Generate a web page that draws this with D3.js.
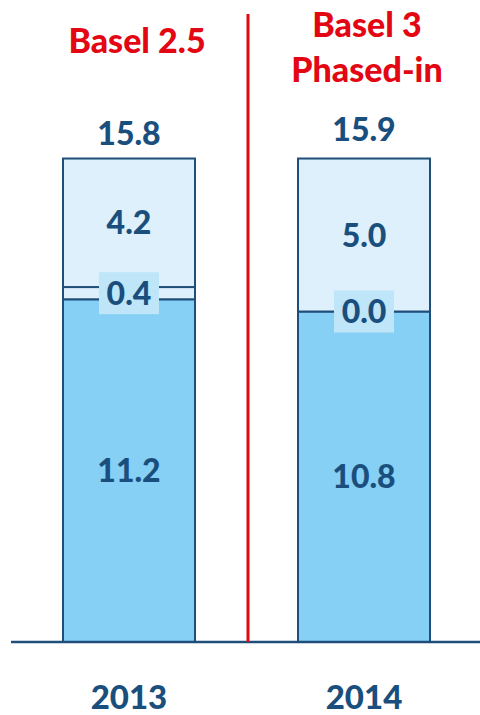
<!DOCTYPE html>
<html>
<head>
<meta charset="utf-8">
<script src="https://cdnjs.cloudflare.com/ajax/libs/d3/7.8.5/d3.min.js"></script>
<style>
  body { margin: 0; background: #fff; }
  text { font-family: Lato, "Open Sans", sans-serif; font-weight: 900; }
</style>
</head>
<body>
<svg id="chart"></svg>
<script>
// Data
var years = ["2013", "2014"];
var regimes = [["Basel 2.5"], ["Basel 3", "Phased-in"]];
var baseValues = [11.2, 10.8];
var midValues = [0.4, 0.0];
var topValues = [4.2, 5.0];
var totals = [15.8, 15.9];

var width = 480;
var height = 715;
var baseY = 642;
var darkBlue = "#1f4e79";
var textBlue = "#1a4f7d";

var svg = d3.select("#chart").attr("width", width).attr("height", height);

// bars ~132px wide, centres at ~129 and ~364
var x = d3.scaleBand().domain(years).range([4.25, 488.75]).paddingInner(0.4383).paddingOuter(0.25);
// y: value -> pixel, 0 at baseline
var y = d3.scaleLinear().domain([0, 15.85]).range([baseY, 157]);

// Build stacked segments
var segs = [];
years.forEach(function (yr, i) {
    var b = baseValues[i], m = midValues[i], t = topValues[i];
    segs.push({ year: yr, y0: 0, y1: b, v: b, fill: "#85d0f4", box: false });
    segs.push({ year: yr, y0: b, y1: b + m, v: m, fill: "#ddf0fc", box: true });
    segs.push({ year: yr, y0: b + m, y1: b + m + t, v: t, fill: "#ddf0fc", box: false });
});

svg.selectAll("rect.seg").data(segs).enter().append("rect")
    .attr("class", "seg")
    .attr("x", function (d) { return x(d.year); })
    .attr("width", x.bandwidth())
    .attr("y", function (d) { return y(d.y1); })
    .attr("height", function (d) { return y(d.y0) - y(d.y1); })
    .style("fill", function (d) { return d.fill; })
    .style("stroke", darkBlue)
    .style("stroke-width", 2);

// Boxed labels for the thin middle segment
var boxed = segs.filter(function (d) { return d.box; });
svg.selectAll("rect.lblbox").data(boxed).enter().append("rect")
    .attr("class", "lblbox")
    .attr("x", function (d) { return x(d.year) + x.bandwidth() / 2 - 30; })
    .attr("y", function (d) { return y((d.y0 + d.y1) / 2) - 21; })
    .attr("width", 60)
    .attr("height", 42)
    .style("fill", "#bfe5f9");

svg.selectAll("text.seglbl").data(segs).enter().append("text")
    .attr("class", "seglbl")
    .attr("x", function (d) { return x(d.year) + x.bandwidth() / 2; })
    .attr("y", function (d) { return y((d.y0 + d.y1) / 2); })
    .attr("dy", "0.36em")
    .attr("text-anchor", "middle")
    .style("font-size", "32px")
    .style("fill", textBlue)
    .text(function (d) { return d3.format(".1f")(d.v); });

// Totals
svg.selectAll("text.total").data(totals).enter().append("text")
    .attr("class", "total")
    .attr("x", function (d, i) { return x(years[i]) + x.bandwidth() / 2; })
    .attr("y", function (d) { return y(d) - 14; })
    .attr("text-anchor", "middle")
    .style("font-size", "32px")
    .style("fill", textBlue)
    .text(function (d) { return d3.format(".1f")(d); });

// Baseline
svg.append("line")
    .attr("x1", 11).attr("x2", 480)
    .attr("y1", baseY).attr("y2", baseY)
    .style("stroke", darkBlue).style("stroke-width", 2.5);

// Red divider
svg.append("line")
    .attr("x1", 248).attr("x2", 248)
    .attr("y1", 14).attr("y2", baseY)
    .style("stroke", "#e30613").style("stroke-width", 3);

// Year labels
svg.selectAll("text.year").data(years).enter().append("text")
    .attr("class", "year")
    .attr("x", function (d) { return x(d) + x.bandwidth() / 2; })
    .attr("y", 709)
    .attr("text-anchor", "middle")
    .style("font-size", "33px")
    .style("fill", textBlue)
    .text(function (d) { return d; });

// Regime headers
regimes.forEach(function (lines, i) {
    var cx = x(years[i]) + x.bandwidth() / 2 + (i ? 3 : 8);
    var startY = lines.length > 1 ? 37 : 53;
    lines.forEach(function (l, j) {
        svg.append("text")
            .attr("x", cx)
            .attr("y", startY + j * 45)
            .attr("text-anchor", "middle")
            .style("font-size", "34px")
            .style("fill", "#e30613")
            .text(l);
    });
});
</script>
</body>
</html>
